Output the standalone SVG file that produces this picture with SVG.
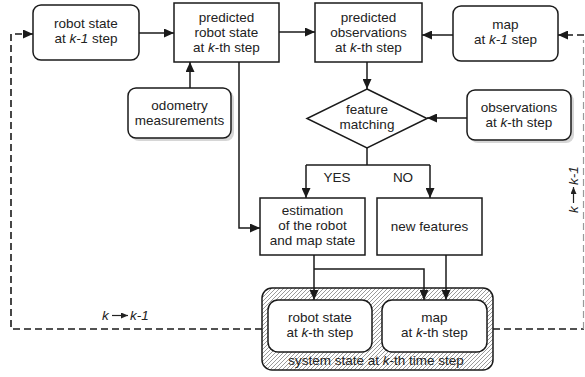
<svg xmlns="http://www.w3.org/2000/svg" width="585" height="377" viewBox="0 0 585 377">
<style>
.box{fill:#fff;stroke:#1a1a1a;stroke-width:1.5}
.shadow{fill:#d6d6d6}
.t{font-family:"Liberation Sans",Arial,sans-serif;font-size:13.5px;fill:#222;text-anchor:middle}
.tl{font-family:"Liberation Sans",Arial,sans-serif;font-size:13.5px;fill:#222}
.i{font-style:italic}
.ln{fill:none;stroke:#1a1a1a;stroke-width:1.5}
.dash{fill:none;stroke:#1a1a1a;stroke-width:1.6;stroke-dasharray:7 4}
</style>
<defs>
<marker id="ah" markerUnits="userSpaceOnUse" markerWidth="10" markerHeight="9" refX="10" refY="4.5" orient="auto">
<path d="M0,0 L10,4.5 L0,9 z" fill="#1a1a1a"/>
</marker>
<marker id="sm" markerUnits="userSpaceOnUse" markerWidth="7" markerHeight="6" refX="7" refY="3" orient="auto">
<path d="M0,0 L7,3 L0,6 z" fill="#222"/>
</marker>
<pattern id="hatch" patternUnits="userSpaceOnUse" width="4" height="4">
<rect width="4" height="4" fill="#fff"/>
<path d="M-1,1 L1,-1 M0,4 L4,0 M3,5 L5,3" stroke="#6e6e6e" stroke-width="0.7"/>
</pattern>
</defs>

<g id="robot-state-k-1">
<rect class="box" x="33" y="5" width="106" height="55" rx="8"/>
<text class="t" x="86" y="28">robot state</text>
<text class="t" x="86" y="43">at <tspan class="i">k-1</tspan> step</text>
</g>

<g id="predicted-robot-state">
<rect class="box" x="174" y="3" width="105" height="59"/>
<text class="t" x="226.5" y="22">predicted</text>
<text class="t" x="226.5" y="37">robot state</text>
<text class="t" x="226.5" y="52">at <tspan class="i">k</tspan>-th step</text>
</g>

<g id="odometry">
<rect class="shadow" x="131" y="91" width="103" height="50" rx="8"/>
<rect class="box" x="128" y="88" width="103" height="50" rx="8"/>
<text class="t" x="179.5" y="110">odometry</text>
<text class="t" x="179.5" y="125">measurements</text>
</g>

<g id="predicted-observations">
<rect class="box" x="315" y="3" width="107" height="59"/>
<text class="t" x="368.5" y="22">predicted</text>
<text class="t" x="368.5" y="37">observations</text>
<text class="t" x="368.5" y="52">at <tspan class="i">k</tspan>-th step</text>
</g>

<g id="map-k-1">
<rect class="box" x="453" y="6" width="105" height="55" rx="8"/>
<text class="t" x="505.5" y="29">map</text>
<text class="t" x="505.5" y="44">at <tspan class="i">k-1</tspan> step</text>
</g>

<g id="feature-matching">
<polygon class="box" points="367,89 427,118.5 367,148 307,118.5"/>
<text class="t" x="367" y="114">feature</text>
<text class="t" x="367" y="129">matching</text>
</g>

<g id="observations">
<rect class="shadow" x="470" y="93" width="104" height="50" rx="8"/>
<rect class="box" x="467" y="90" width="104" height="50" rx="8"/>
<text class="t" x="519" y="112">observations</text>
<text class="t" x="519" y="127">at <tspan class="i">k</tspan>-th step</text>
</g>

<g id="estimation">
<rect class="box" x="260" y="198" width="105" height="57"/>
<text class="t" x="312.5" y="215">estimation</text>
<text class="t" x="312.5" y="230">of the robot</text>
<text class="t" x="312.5" y="245">and map state</text>
</g>

<g id="new-features">
<rect class="box" x="377" y="198" width="105" height="57"/>
<text class="t" x="429.5" y="231">new features</text>
</g>

<g id="system-state">
<rect x="262" y="288" width="231" height="82" rx="10" fill="url(#hatch)" stroke="#1a1a1a" stroke-width="1.5"/>
<text class="t" x="376" y="365">system state at <tspan class="i">k</tspan>-th time step</text>
</g>

<g id="robot-state-k">
<rect class="box" x="268" y="300" width="104" height="52" rx="10"/>
<text class="t" x="320" y="322">robot state</text>
<text class="t" x="320" y="337">at <tspan class="i">k</tspan>-th step</text>
</g>

<g id="map-k">
<rect class="box" x="382" y="300" width="105" height="52" rx="10"/>
<text class="t" x="434.5" y="322">map</text>
<text class="t" x="434.5" y="337">at <tspan class="i">k</tspan>-th step</text>
</g>

<g id="connectors">
<line class="ln" x1="139" y1="33" x2="174" y2="33" marker-end="url(#ah)"/>
<line class="ln" x1="190" y1="88" x2="190" y2="62" marker-end="url(#ah)"/>
<line class="ln" x1="279" y1="32" x2="315" y2="32" marker-end="url(#ah)"/>
<line class="ln" x1="453" y1="35" x2="422" y2="35" marker-end="url(#ah)"/>
<line class="ln" x1="367" y1="62" x2="367" y2="89" marker-end="url(#ah)"/>
<line class="ln" x1="467" y1="118" x2="427" y2="118" marker-end="url(#ah)"/>
<polyline class="ln" points="367,148 367,165"/>
<polyline class="ln" points="306,165 430,165"/>
<line class="ln" x1="306" y1="165" x2="306" y2="198" marker-end="url(#ah)"/>
<line class="ln" x1="430" y1="165" x2="430" y2="198" marker-end="url(#ah)"/>
<polyline class="ln" points="239,62 239,228 260,228" marker-end="url(#ah)"/>
<line class="ln" x1="314" y1="255" x2="314" y2="300" marker-end="url(#ah)"/>
<polyline class="ln" points="314,269 424,269 424,300" marker-end="url(#ah)"/>
<line class="ln" x1="446" y1="255" x2="446" y2="300" marker-end="url(#ah)"/>
<path class="dash" d="M262,329 H11 V34 H33" marker-end="url(#ah)"/>
<path class="dash" d="M493,329 H584"/>
<path d="M583.5,329 V40" fill="none" stroke="#9a9a9a" stroke-width="1.2" stroke-dasharray="7 4"/>
<path class="dash" d="M584,35 H558" marker-end="url(#ah)"/>
<text class="t" x="337" y="182">YES</text>
<text class="t" x="403" y="182">NO</text>
<g id="label-bottom">
<text class="tl i" x="102" y="320">k</text>
<line x1="112" y1="315.5" x2="128" y2="315.5" stroke="#222" stroke-width="1.2" marker-end="url(#sm)"/>
<text class="tl i" x="130" y="320">k-1</text>
</g>
<g id="label-right" transform="translate(578,190) rotate(-90)">
<text class="tl i" x="-23" y="0">k</text>
<line x1="-13" y1="-4.5" x2="3" y2="-4.5" stroke="#222" stroke-width="1.2" marker-end="url(#sm)"/>
<text class="tl i" x="5" y="0">k-1</text>
</g>
</g>
</svg>
